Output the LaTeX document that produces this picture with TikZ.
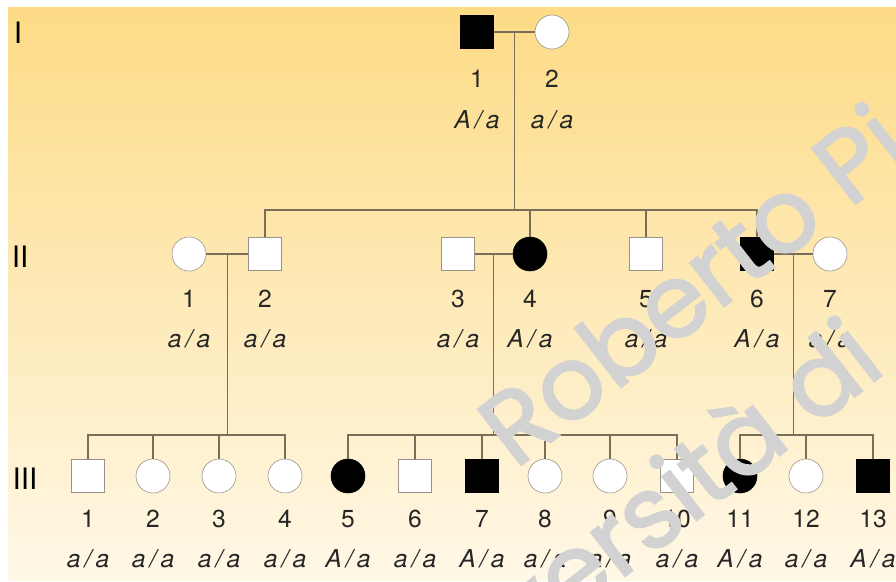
\documentclass[tikz,border=0pt]{standalone}
\usepackage{fontspec}
\setmainfont{TeX Gyre Heros}
\newfontfamily\markfont{Poppins}[FakeBold=2]
\usetikzlibrary{calc}
\definecolor{pedline}{RGB}{122,110,90}
\definecolor{pedgray}{RGB}{150,146,138}
\definecolor{bgtop}{RGB}{253,219,134}
\definecolor{bgmid}{RGB}{254,236,186}
\definecolor{bgbot}{RGB}{255,248,231}
\definecolor{markgray}{RGB}{210,210,210}

\begin{document}
\begin{tikzpicture}[
    x=0.025cm, y=-0.025cm,
    male/.style={rectangle, draw=pedgray, fill=white, minimum size=0.825cm, inner sep=0pt},
    female/.style={circle, draw=pedgray, fill=white, minimum size=0.85cm, inner sep=0pt},
    affmale/.style={male, draw=black, fill=black},
    afffemale/.style={female, draw=black, fill=black},
    num/.style={anchor=base, inner sep=0pt, font=\fontsize{17.5}{20}\selectfont, text=black!85},
    geno/.style={anchor=base, inner sep=0pt, font=\fontsize{17.5}{20}\selectfont\itshape, text=black!85},
    gen/.style={font=\fontsize{21}{24}\selectfont, text=black},
    link/.style={draw=pedline, line width=0.9pt},
    wmark/.style={inner sep=0pt, text=markgray, font=\markfont\fontsize{72}{80}\selectfont}
  ]
  \useasboundingbox (0,0) rectangle (896,581);
  \fill[top color=bgtop, middle color=bgmid, bottom color=bgbot] (8,7) rectangle (896,580);

  % generation numbers
  \node[gen] (gI) at (18,33) {I};
  \node[gen] (gII) at (20,257) {II};
  \node[gen] (gIII) at (25,479) {III};

  % generation I
  \node[affmale] (i1) at (477,32) {};
  \node[female] (i2) at (552,32) {};
  \node[num] (n-i1) at (477,87) {1};
  \node[num] (n-i2) at (552,87) {2};
  \node[geno] (g-i1) at (477,128) {A\,/\,a};
  \node[geno] (g-i2) at (552,128) {a\,/\,a};

  % generation II
  \foreach \n/\x/\s/\g in {1/189/female/a, 2/265/male/a, 3/458/male/a, 4/530/afffemale/A,
      5/646/male/a, 6/757/affmale/A, 7/830/female/a}{
    \node[\s] (ii\n) at (\x,254) {};
    \node[num] (n-ii\n) at (\x,307) {\n};
    \node[geno] (g-ii\n) at (\x,347) {\g\,/\,a};
  }

  % generation III
  \foreach \n/\x/\s/\g in {1/88/male/a, 2/153/female/a, 3/219/female/a, 4/285/female/a,
      5/348/afffemale/A, 6/415/male/a, 7/482/affmale/A, 8/545/female/a, 9/610/female/a,
      10/677/male/a, 11/740/afffemale/A, 12/806/female/a, 13/873/affmale/A}{
    \node[\s] (iii\n) at (\x,476) {};
    \node[num] (n-iii\n) at (\x,527) {\n};
    \node[geno] (g-iii\n) at (\x,567) {\g\,/\,a};
  }

  % sibship levels
  \coordinate (s-ii) at (0,210);
  \coordinate (s-iii) at (0,435);

  % I-1 x I-2
  \draw[link] (i1) -- (i2);
  \coordinate (m-i) at ($(i1.east)!0.5!(i2.west)$);
  \draw[link] (m-i) -- (m-i |- s-ii);
  \draw[link] (ii2) -- (ii2 |- s-ii) -- (ii6 |- s-ii) -- (ii6);
  \foreach \c in {4,5} \draw[link] (ii\c) -- (ii\c |- s-ii);

  % II-1 x II-2
  \draw[link] (ii1) -- (ii2);
  \coordinate (m-ii12) at ($(ii1.east)!0.5!(ii2.west)$);
  \draw[link] (m-ii12) -- (m-ii12 |- s-iii);
  \draw[link] (iii1) -- (iii1 |- s-iii) -- (iii4 |- s-iii) -- (iii4);
  \foreach \c in {2,3} \draw[link] (iii\c) -- (iii\c |- s-iii);

  % II-3 x II-4
  \draw[link] (ii3) -- (ii4);
  \coordinate (m-ii34) at ($(ii3.east)!0.5!(ii4.west)$);
  \draw[link] (m-ii34) -- (m-ii34 |- s-iii);
  \draw[link] (iii5) -- (iii5 |- s-iii) -- (iii10 |- s-iii) -- (iii10);
  \foreach \c in {6,...,9} \draw[link] (iii\c) -- (iii\c |- s-iii);

  % II-6 x II-7
  \draw[link] (ii6) -- (ii7);
  \coordinate (m-ii67) at ($(ii6.east)!0.5!(ii7.west)$);
  \draw[link] (m-ii67) -- (m-ii67 |- s-iii);
  \draw[link] (iii11) -- (iii11 |- s-iii) -- (iii13 |- s-iii) -- (iii13);
  \draw[link] (iii12) -- (iii12 |- s-iii);

  % watermark on top
  \begin{scope}
    \clip (0,0) rectangle (896,581);
    \node[wmark, rotate=38, anchor=base west] (wm1) at (515,470) {Roberto Pi};
    \node[wmark, rotate=38, anchor=base west] (wm2) at (400,752) {Università di};
  \end{scope}
\end{tikzpicture}
\end{document}
